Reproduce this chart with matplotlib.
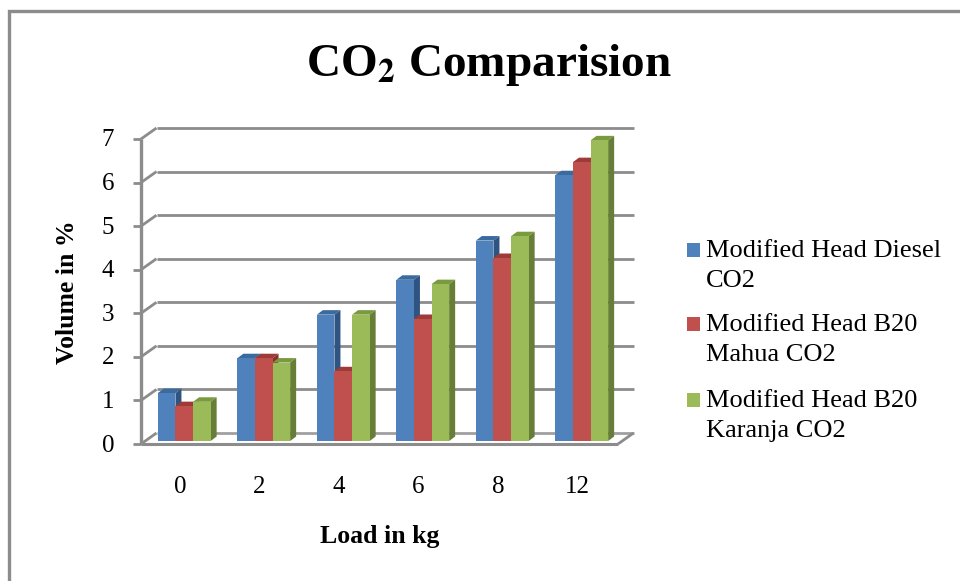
import matplotlib
matplotlib.use('Agg')
import matplotlib.pyplot as plt
from matplotlib.patches import Polygon, Rectangle

W, H = 960, 581

loads = ['0', '2', '4', '6', '8', '12']
diesel = [1.1, 1.9, 2.9, 3.7, 4.6, 6.1]
mahua = [0.8, 1.9, 1.6, 2.8, 4.2, 6.4]
karanja = [0.9, 1.8, 2.9, 3.6, 4.7, 6.9]
y_ticks = [0, 1, 2, 3, 4, 5, 6, 7]
series = ['Modified Head Diesel\nCO2', 'Modified Head B20\nMahua CO2', 'Modified Head B20\nKaranja CO2']

# front, top, side
colors = [('#4f81bd', '#3a6a9e', '#2f5482'),
          ('#c0504d', '#9e3a38', '#8a2f2d'),
          ('#9bbb59', '#7a9a3f', '#667e36')]
grid_col = '#8c8c8c'

plt.rcParams['font.family'] = ['Liberation Serif', 'DejaVu Serif']

fig = plt.figure(figsize=(W / 100, H / 100), dpi=100)

# axes is the front plane of the fake 3d box
left, right, top, bottom = 141, 618, 139, 444
ax = fig.add_axes([left / W, 1 - bottom / H, (right - left) / W, (bottom - top) / H])
ax.set_xlim(-0.5, 5.5)
ax.set_ylim(0, 7)
ax.axis('off')

ux = (right - left) / 6
uy = (bottom - top) / 7
# depth of wall and bars, in data units
wall_dx, wall_dy = 15.5 / ux, 11 / uy
bar_dx, bar_dy = 6 / ux, 4.5 / uy
base_dx, base_dy = 3.5 / ux, 3 / uy
bw = 17.6 / ux


def line(xs, ys, lw=2.0, color=grid_col, z=1):
    ax.plot(xs, ys, color=color, lw=lw, solid_capstyle='butt', clip_on=False, zorder=z)


# back wall gridlines and the diagonal joins
for v in y_ticks:
    line([-0.5 + wall_dx, 5.5 + wall_dx], [v + wall_dy, v + wall_dy], color=grid_col if v else '#a0a0a0')
    line([-0.5, -0.5 + wall_dx], [v, v + wall_dy])
    line([-0.5 - 8 / ux, -0.5], [v, v], z=3)
line([-0.5, -0.5], [0, 7], lw=2.4, z=3)
line([-0.5, 5.5], [0, 0], lw=2.2, z=1.5)
line([5.5, 5.5 + wall_dx], [0, wall_dy], lw=2.0)

# bars, drawn left to right so neighbours overlap correctly
for i in range(len(loads)):
    for j, vals in enumerate([diesel, mahua, karanja]):
        x0 = i - 1.5 * bw + j * bw + base_dx
        x1 = x0 + bw
        y0 = base_dy
        y1 = y0 + vals[i]
        fc, tc, sc = colors[j]
        ax.bar(x0, vals[i], width=bw, bottom=y0, align='edge', color=fc, linewidth=0, zorder=4 + i + j * 0.1)
        ax.add_patch(Polygon([(x0, y1), (x1, y1), (x1 + bar_dx, y1 + bar_dy), (x0 + bar_dx, y1 + bar_dy)],
                             closed=True, fc=tc, ec='none', zorder=3.9 + i + j * 0.1, clip_on=False))
        ax.add_patch(Polygon([(x1, y0), (x1 + bar_dx, y0 + bar_dy), (x1 + bar_dx, y1 + bar_dy), (x1, y1)],
                             closed=True, fc=sc, ec='none', zorder=3.9 + i + j * 0.1, clip_on=False))

# tick labels
for v in y_ticks:
    ax.annotate(str(v), (-0.5, v), xytext=(-33, 1), textcoords='offset pixels', ha='center', va='center_baseline',
                fontsize=18, annotation_clip=False)
for i, lab in enumerate(loads):
    ax.annotate(lab, (i - 0.01, 0), xytext=(0, -43), textcoords='offset pixels', ha='center', va='center',
                fontsize=18, annotation_clip=False)

fig.text(489 / W, 1 - 65 / H, r'CO$_{\mathbf{2}}$ Comparision', ha='center', va='center', fontsize=34,
         fontweight='bold', math_fontfamily='stix')
fig.text(380 / W, 1 - 536 / H, 'Load in kg', ha='center', va='center', fontsize=18.5, fontweight='bold')
fig.text(68 / W, 1 - 292 / H, 'Volume in %', ha='center', va='center', rotation=90, fontsize=18.5, fontweight='bold')

# legend, placed by hand
leg_y = [250, 324, 400]
for (fc, _, _), name, ly in zip(colors, series, leg_y):
    fig.patches.append(Rectangle((687 / W, 1 - (ly + 7) / H), 13 / W, 14 / H, transform=fig.transFigure,
                                 fc=fc, ec='none'))
    fig.text(706 / W, 1 - (ly + 16) / H, name, ha='left', va='center', fontsize=19, linespacing=1.52)

# chart border
fig.patches.append(Rectangle((9 / W, -0.02), 2, 1.02 - 11 / H, transform=fig.transFigure, fc='none',
                             ec='#8c8c8c', lw=2.4))

fig.savefig('out.png', dpi=100)
